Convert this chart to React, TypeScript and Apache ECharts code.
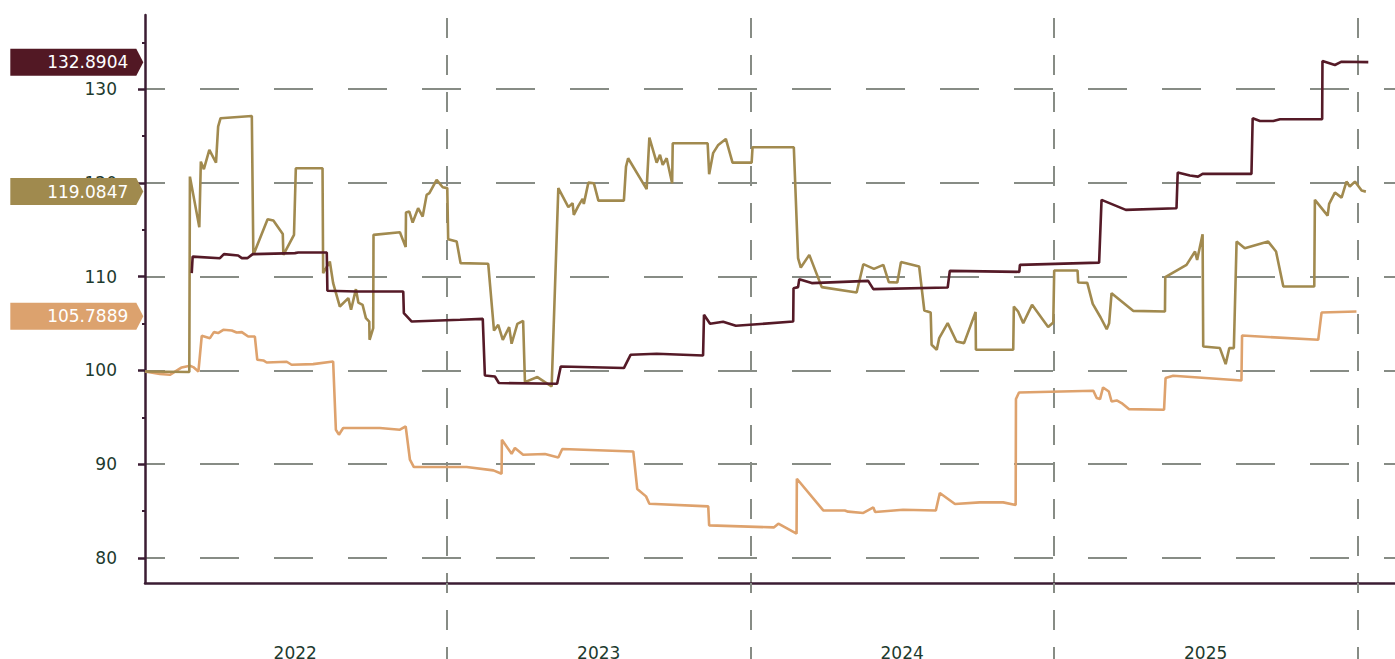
import React, { useEffect, useRef } from "react";
import * as echarts from "echarts";

// x = decimal year, y = index value
const tanSeries: number[][] = [
  [2022.005, 99.89], [2022.054, 99.62], [2022.087, 99.54], [2022.126, 100.32], [2022.153, 100.5],
  [2022.164, 100.36], [2022.181, 99.89], [2022.192, 103.7], [2022.219, 103.45], [2022.232, 104.09],
  [2022.246, 103.99], [2022.263, 104.34], [2022.291, 104.26], [2022.307, 104.05], [2022.324, 104.09],
  [2022.345, 103.62], [2022.367, 103.62], [2022.375, 101.14], [2022.395, 101.07], [2022.406, 100.85],
  [2022.472, 100.93], [2022.488, 100.61], [2022.559, 100.68], [2022.625, 100.96], [2022.634, 93.68],
  [2022.644, 93.15], [2022.658, 93.86], [2022.779, 93.86], [2022.845, 93.68], [2022.864, 94.03],
  [2022.878, 90.48], [2022.891, 89.7], [2023.065, 89.7], [2023.153, 89.34], [2023.18, 88.99],
  [2023.181, 92.61], [2023.213, 91.12], [2023.224, 91.73], [2023.251, 91.01], [2023.323, 91.09],
  [2023.367, 90.72], [2023.38, 91.62], [2023.614, 91.36], [2023.627, 87.36], [2023.656, 86.57],
  [2023.667, 85.79], [2023.861, 85.5], [2023.864, 83.48], [2024.077, 83.26], [2024.092, 83.66],
  [2024.152, 82.59], [2024.153, 88.45], [2024.24, 85.07], [2024.311, 85.07], [2024.322, 84.94],
  [2024.372, 84.8], [2024.405, 85.39], [2024.411, 84.9], [2024.503, 85.15], [2024.611, 85.07],
  [2024.624, 86.93], [2024.674, 85.76], [2024.756, 85.93], [2024.833, 85.93], [2024.874, 85.65],
  [2024.875, 96.95], [2024.885, 97.65], [2025.13, 97.84], [2025.141, 97.06], [2025.152, 96.95],
  [2025.162, 98.19], [2025.181, 97.76], [2025.19, 96.7], [2025.207, 96.8], [2025.223, 96.52],
  [2025.247, 95.88], [2025.363, 95.81], [2025.368, 99.19], [2025.393, 99.43], [2025.618, 98.93],
  [2025.62, 103.73], [2025.871, 103.27], [2025.882, 106.18], [2025.997, 106.29],
];

const goldSeries: number[][] = [
  [2022.005, 99.89], [2022.151, 99.83], [2022.153, 120.68], [2022.184, 115.29], [2022.189, 122.28],
  [2022.199, 121.47], [2022.217, 123.53], [2022.239, 122.17], [2022.246, 126.01], [2022.254, 126.91],
  [2022.357, 127.15], [2022.362, 112.33], [2022.409, 116.14], [2022.428, 115.99], [2022.459, 114.57],
  [2022.461, 112.33], [2022.496, 114.47], [2022.502, 121.58], [2022.59, 121.58], [2022.592, 110.38],
  [2022.614, 111.62], [2022.625, 109.32], [2022.647, 106.82], [2022.675, 107.72], [2022.684, 106.47],
  [2022.7, 108.68], [2022.708, 107.25], [2022.722, 107.0], [2022.733, 105.59], [2022.744, 105.22],
  [2022.745, 103.27], [2022.757, 104.52], [2022.758, 114.47], [2022.845, 114.75], [2022.864, 113.16],
  [2022.865, 116.84], [2022.876, 116.95], [2022.887, 115.78], [2022.905, 117.31], [2022.92, 116.42],
  [2022.933, 118.73], [2022.942, 118.91], [2022.966, 120.33], [2022.986, 119.55], [2023.001, 119.45],
  [2023.004, 114.01], [2023.032, 113.75], [2023.045, 111.45], [2023.136, 111.38], [2023.155, 104.26],
  [2023.169, 104.87], [2023.184, 103.27], [2023.205, 104.63], [2023.213, 102.85], [2023.232, 104.98],
  [2023.251, 105.3], [2023.257, 98.76], [2023.298, 99.3], [2023.345, 98.29], [2023.367, 119.45],
  [2023.4, 117.42], [2023.414, 117.85], [2023.418, 116.6], [2023.433, 117.56], [2023.447, 118.3],
  [2023.451, 117.77], [2023.466, 120.04], [2023.484, 119.98], [2023.499, 118.12], [2023.583, 118.12],
  [2023.59, 121.75], [2023.597, 122.64], [2023.658, 119.34], [2023.667, 124.84], [2023.691, 122.17],
  [2023.702, 123.0], [2023.711, 121.93], [2023.724, 122.64], [2023.742, 119.98], [2023.744, 124.24],
  [2023.859, 124.24], [2023.864, 120.94], [2023.877, 123.18], [2023.894, 124.06], [2023.919, 124.7],
  [2023.941, 122.17], [2024.004, 122.17], [2024.007, 123.82], [2024.143, 123.82], [2024.157, 111.98],
  [2024.166, 110.98], [2024.194, 112.33], [2024.235, 108.89], [2024.35, 108.32], [2024.372, 111.34],
  [2024.407, 110.84], [2024.438, 111.27], [2024.456, 109.42], [2024.484, 109.38], [2024.496, 111.56],
  [2024.556, 111.09], [2024.573, 106.4], [2024.594, 106.18], [2024.597, 102.74], [2024.614, 102.21],
  [2024.622, 103.45], [2024.65, 105.05], [2024.679, 103.09], [2024.704, 102.92], [2024.742, 106.23],
  [2024.743, 102.21], [2024.866, 102.21], [2024.868, 106.82], [2024.882, 106.29], [2024.899, 105.05],
  [2024.928, 107.0], [2024.981, 104.63], [2024.998, 105.12], [2025.001, 110.66], [2025.078, 110.66],
  [2025.08, 109.38], [2025.11, 109.35], [2025.128, 107.11], [2025.154, 105.65], [2025.174, 104.41],
  [2025.182, 105.05], [2025.19, 108.25], [2025.261, 106.36], [2025.366, 106.29], [2025.367, 109.96],
  [2025.437, 111.27], [2025.465, 112.69], [2025.472, 111.8], [2025.49, 114.54], [2025.492, 102.56],
  [2025.547, 102.39], [2025.566, 100.68], [2025.578, 102.39], [2025.593, 102.39], [2025.602, 113.75],
  [2025.629, 113.05], [2025.706, 113.75], [2025.732, 112.69], [2025.756, 108.96], [2025.858, 108.96],
  [2025.86, 118.2], [2025.902, 116.52], [2025.907, 117.77], [2025.926, 118.98], [2025.948, 118.44],
  [2025.964, 120.15], [2025.975, 119.62], [2025.992, 120.15], [2026.014, 119.19], [2026.028, 119.08],
];

const maroonSeries: number[][] = [
  [2022.159, 110.38], [2022.162, 112.15], [2022.252, 111.98], [2022.265, 112.41], [2022.312, 112.26],
  [2022.324, 111.98], [2022.342, 111.98], [2022.36, 112.41], [2022.499, 112.52], [2022.51, 112.58],
  [2022.604, 112.58], [2022.606, 108.5], [2022.702, 108.42], [2022.856, 108.42], [2022.858, 106.12],
  [2022.884, 105.22], [2023.043, 105.41], [2023.118, 105.51], [2023.125, 99.47], [2023.158, 99.36],
  [2023.171, 98.66], [2023.363, 98.58], [2023.375, 100.43], [2023.583, 100.26], [2023.605, 101.67],
  [2023.691, 101.78], [2023.844, 101.6], [2023.847, 105.94], [2023.867, 104.98], [2023.91, 105.19],
  [2023.952, 104.77], [2024.141, 105.22], [2024.142, 108.78], [2024.157, 108.89], [2024.161, 109.74],
  [2024.202, 109.32], [2024.388, 109.56], [2024.405, 108.68], [2024.65, 108.85], [2024.657, 110.63],
  [2024.886, 110.52], [2024.888, 111.27], [2025.149, 111.51], [2025.157, 118.2], [2025.237, 117.13],
  [2025.404, 117.31], [2025.408, 121.11], [2025.448, 120.79], [2025.475, 120.68], [2025.49, 120.97],
  [2025.651, 120.97], [2025.655, 126.91], [2025.679, 126.62], [2025.723, 126.62], [2025.745, 126.8],
  [2025.884, 126.8], [2025.885, 133.02], [2025.926, 132.59], [2025.948, 132.94], [2026.036, 132.89],
];

const lastValues = [105.7889, 119.0847, 132.8904];
const seriesColors = ["#dea26d", "#a18a4f", "#551a27"];
const tagColors = ["#dca26e", "#a08a4e", "#521824"];
const yearTicks = [2023, 2024, 2025, 2026];
const yearLabelPositions = [2022.5, 2023.5, 2024.5, 2025.5];
const yTickValues = [80, 90, 100, 110, 120, 130];

const X_MIN = 2022.005;
const X_MAX = 2026.124;
const Y_MIN = 77.33;
const Y_MAX = 137.92;

const FONT = "DejaVu Sans";
const TEXT_COLOR = "#1d3a2e";
const AXIS_COLOR = "#3b1d33";
const GRID_COLOR = "#878c85";

export default function App() {
  const ref = useRef<HTMLDivElement>(null);

  useEffect(() => {
    if (!ref.current) return;
    const chart = echarts.init(ref.current, undefined, { renderer: "svg" });
    const allData = [tanSeries, goldSeries, maroonSeries];

    const series = allData.map((d, i) => ({
      type: "line",
      data: d,
      showSymbol: false,
      symbol: "none",
      clip: false,
      z: 3 + i,
      lineStyle: { color: seriesColors[i], width: 2.6 },
      itemStyle: { color: seriesColors[i] },
      markPoint: {
        silent: true,
        symbol: "path://M0 0 L126 0 L133 13.5 L126 27 L0 27 Z",
        symbolSize: [133, 27],
        symbolOffset: [-68.2, 0],
        itemStyle: { color: tagColors[i] },
        label: {
          show: true,
          position: "insideRight",
          distance: 15,
          color: "#ffffff",
          fontFamily: FONT,
          fontSize: 17,
          formatter: () => String(lastValues[i]),
        },
        data: [{ coord: [X_MIN, lastValues[i]], value: lastValues[i] }],
      },
    }));

    chart.setOption({
      animation: false,
      grid: {
        left: 145,
        right: 0,
        top: 15,
        bottom: 76,
        containLabel: false,
        outerBoundsMode: "none",
      },
      xAxis: {
        type: "value",
        min: X_MIN,
        max: X_MAX,
        axisLine: { show: true, onZero: false, lineStyle: { color: AXIS_COLOR, width: 2.5 } },
        axisTick: {
          show: true,
          customValues: yearTicks,
          length: 76,
          lineStyle: { color: GRID_COLOR, width: 2, type: [20, 17], dashOffset: 10 },
        },
        axisLabel: {
          show: true,
          customValues: yearLabelPositions,
          formatter: (v: number) => String(Math.floor(v)),
          margin: 61,
          color: TEXT_COLOR,
          fontFamily: FONT,
          fontSize: 17,
        },
        splitLine: {
          show: true,
          lineStyle: { color: GRID_COLOR, width: 2, type: [20, 17], dashOffset: 34 },
        },
      },
      yAxis: {
        type: "value",
        min: Y_MIN,
        max: Y_MAX,
        axisLine: { show: true, lineStyle: { color: AXIS_COLOR, width: 2.5 } },
        axisTick: {
          show: true,
          customValues: yTickValues,
          length: 7,
          lineStyle: { color: AXIS_COLOR, width: 2.5 },
        },
        minorTick: {
          show: true,
          splitNumber: 2,
          length: 3,
          lineStyle: { color: AXIS_COLOR, width: 2 },
        },
        axisLabel: {
          show: true,
          customValues: yTickValues,
          margin: 28,
          color: TEXT_COLOR,
          fontFamily: FONT,
          fontSize: 17,
        },
        splitLine: {
          show: true,
          lineStyle: { color: GRID_COLOR, width: 2, type: [39, 35], dashOffset: 19 },
        },
      },
      series,
    });

    return () => chart.dispose();
  }, []);

  return (
    <div
      ref={ref}
      style={{ position: "fixed", left: 0, top: 0, width: 1395, height: 659, background: "#ffffff" }}
    />
  );
}
